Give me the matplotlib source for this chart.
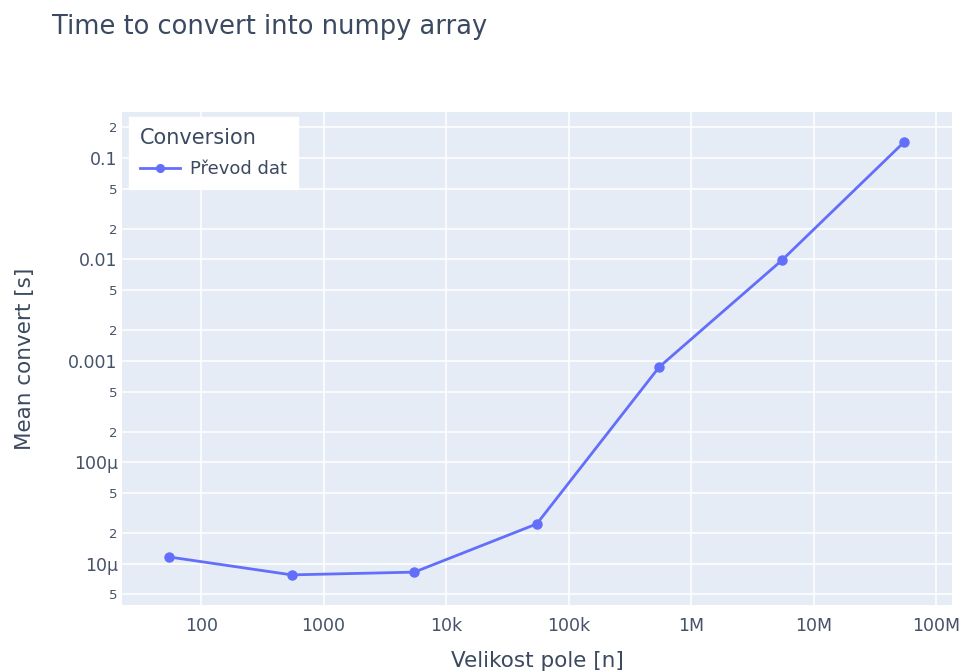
import matplotlib
matplotlib.use("Agg")
import matplotlib.pyplot as plt
from matplotlib.ticker import FixedLocator, FixedFormatter, NullFormatter

# ─── Data ────────────────────────────────────────────────────────────────────
sizes = [55, 550, 5500, 55000, 550000, 5500000, 55000000]
mean_convert = [11.7e-6, 7.8e-6, 8.3e-6, 24.8e-6, 0.000873, 0.0098, 0.144]

x_ticks = [100, 1000, 1e4, 1e5, 1e6, 1e7, 1e8]
x_labels = ["100", "1000", "10k", "100k", "1M", "10M", "100M"]
y_major = [1e-5, 1e-4, 1e-3, 1e-2, 1e-1]
y_major_labels = ["10µ", "100µ", "0.001", "0.01", "0.1"]
y_minor = [5e-6, 2e-5, 5e-5, 2e-4, 5e-4, 2e-3, 5e-3, 2e-2, 5e-2, 2e-1]
y_minor_labels = ["5", "2", "5", "2", "5", "2", "5", "2", "5", "2"]

# ─── Style ───────────────────────────────────────────────────────────────────
plt.rcParams["font.family"] = ["DejaVu Sans"]
TEXT = "#3b4a60"
TICK = "#45526a"
BG = "#e5ecf6"
LINE = "#636efa"

fig = plt.figure(figsize=(9.63, 6.71), dpi=100)
ax = fig.add_axes([0.1267, 0.0984, 0.8619, 0.7347])
ax.set_facecolor(BG)

ax.plot(sizes, mean_convert, color=LINE, linewidth=2, marker="o", markersize=6.5,
        label="Převod dat")

ax.set_xscale("log")
ax.set_yscale("log")
ax.set_xlim(22.6, 1.35e8)
ax.set_ylim(3.94e-6, 0.284)

ax.xaxis.set_major_locator(FixedLocator(x_ticks))
ax.xaxis.set_major_formatter(FixedFormatter(x_labels))
ax.xaxis.set_minor_locator(FixedLocator([]))
ax.xaxis.set_minor_formatter(NullFormatter())

ax.yaxis.set_major_locator(FixedLocator(y_major))
ax.yaxis.set_major_formatter(FixedFormatter(y_major_labels))
ax.yaxis.set_minor_locator(FixedLocator(y_minor))
ax.yaxis.set_minor_formatter(FixedFormatter(y_minor_labels))

ax.tick_params(axis="both", which="both", length=0, colors=TICK)
ax.tick_params(axis="x", which="major", labelsize=12.5, pad=9)
ax.tick_params(axis="y", which="major", labelsize=12.5, pad=3)
ax.tick_params(axis="y", which="minor", labelsize=9.5, pad=3)

ax.grid(True, which="major", color="white", linewidth=1.1)
ax.grid(True, which="minor", axis="y", color="white", linewidth=1.1)
ax.set_axisbelow(True)
for sp in ax.spines.values():
    sp.set_visible(False)

ax.set_xlabel("Velikost pole [n]", fontsize=15.5, color=TEXT, labelpad=11)
ax.set_ylabel("Mean convert [s]", fontsize=15.5, color=TEXT, labelpad=24)

fig.text(0.054, 0.96, "Time to convert into numpy array", fontsize=18.5, color=TEXT,
         ha="left", va="center")

# legend box sits just inside the top-left corner of the plot area
leg = ax.legend(title="Conversion", loc="upper left", bbox_to_anchor=(0.0085, 0.99),
                borderaxespad=0, fontsize=13, title_fontsize=15, frameon=True,
                fancybox=False, framealpha=1, edgecolor="white", borderpad=0.6,
                handlelength=2.2, handletextpad=0.6, labelspacing=0.4,
                markerscale=0.85, alignment="left")
leg.get_title().set_color(TEXT)
leg._legend_box.sep = 9   # extra gap between title and entry
for t in leg.get_texts():
    t.set_color(TEXT)

fig.savefig("out.png", dpi=100)
